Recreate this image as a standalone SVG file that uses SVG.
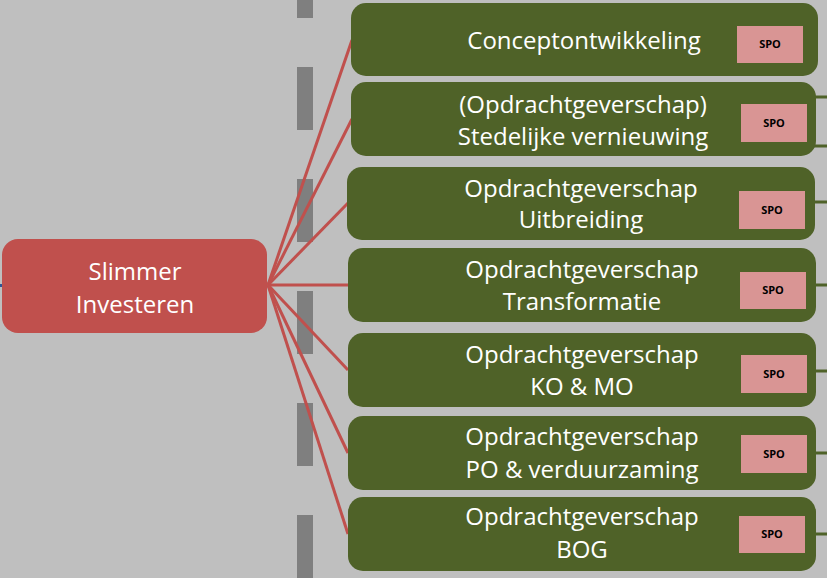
<svg xmlns="http://www.w3.org/2000/svg" width="827" height="578" viewBox="0 0 827 578">
<style>
.bg{fill:#BFBFBF}
.dash{fill:#7F7F7F}
.green{fill:#4F6228}
.red{fill:#C0504D}
.spo{fill:#D99594}
.t{font-family:"Open Sans","Liberation Sans",sans-serif;font-size:24px;fill:#FFFFFF;text-anchor:middle}
.s{font-family:"Open Sans","Liberation Sans",sans-serif;font-size:11px;font-weight:bold;fill:#000000;text-anchor:middle}
.conn line{stroke:#C0504D;stroke-width:3}
.stub line{stroke:#4F6228;stroke-width:3}
</style>
<rect class="bg" x="0" y="0" width="827" height="578"/>
<g id="divider">
<rect class="dash" x="297" y="0" width="16" height="18"/>
<rect class="dash" x="297" y="67" width="16" height="63"/>
<rect class="dash" x="297" y="179" width="16" height="63"/>
<rect class="dash" x="297" y="291" width="16" height="63"/>
<rect class="dash" x="297" y="403" width="16" height="63"/>
<rect class="dash" x="297" y="515" width="16" height="63"/>
</g>
<g id="connectors" class="conn">
<line x1="268" y1="285" x2="352" y2="40"/>
<line x1="268" y1="285" x2="352" y2="119"/>
<line x1="268" y1="285" x2="348" y2="203"/>
<line x1="268" y1="285" x2="349" y2="285"/>
<line x1="268" y1="285" x2="348" y2="370"/>
<line x1="268" y1="285" x2="348" y2="453"/>
<line x1="268" y1="285" x2="348" y2="534"/>
</g>
<g id="stubs" class="stub">
<line x1="810" y1="97" x2="827" y2="97"/>
<line x1="810" y1="146" x2="827" y2="146"/>
<line x1="810" y1="202" x2="827" y2="202"/>
<line x1="810" y1="285" x2="827" y2="285"/>
<line x1="810" y1="371" x2="827" y2="371"/>
<line x1="810" y1="453" x2="827" y2="453"/>
<line x1="810" y1="534" x2="827" y2="534"/>
<line x1="0" y1="285.5" x2="5" y2="285.5" style="stroke:#2F5597;stroke-width:3"/>
</g>
<g id="slimmer-investeren">
<rect class="red" x="2" y="239" width="265" height="94" rx="16"/>
<text class="t" x="135" y="280">Slimmer</text>
<text class="t" x="135" y="313">Investeren</text>
</g>
<g id="conceptontwikkeling">
<rect class="green" x="351" y="3" width="467" height="73" rx="15"/>
<text class="t" x="584" y="49">Conceptontwikkeling</text>
<rect class="spo" x="737" y="26" width="66" height="37"/>
<text class="s" x="770" y="48">SPO</text>
</g>
<g id="stedelijke-vernieuwing">
<rect class="green" x="351" y="82" width="465" height="74" rx="15"/>
<text class="t" x="583" y="113">(Opdrachtgeverschap)</text>
<text class="t" x="583" y="145">Stedelijke vernieuwing</text>
<rect class="spo" x="741" y="104" width="66" height="38"/>
<text class="s" x="774" y="127">SPO</text>
</g>
<g id="uitbreiding">
<rect class="green" x="347" y="167" width="468" height="73" rx="15"/>
<text class="t" x="581" y="197">Opdrachtgeverschap</text>
<text class="t" x="581" y="228">Uitbreiding</text>
<rect class="spo" x="739" y="191" width="66" height="38"/>
<text class="s" x="772" y="214">SPO</text>
</g>
<g id="transformatie">
<rect class="green" x="348" y="248" width="468" height="74" rx="15"/>
<text class="t" x="582" y="278">Opdrachtgeverschap</text>
<text class="t" x="582" y="310">Transformatie</text>
<rect class="spo" x="740" y="272" width="66" height="37"/>
<text class="s" x="773" y="294">SPO</text>
</g>
<g id="ko-mo">
<rect class="green" x="348" y="333" width="468" height="74" rx="15"/>
<text class="t" x="582" y="363">Opdrachtgeverschap</text>
<text class="t" x="582" y="395">KO &amp; MO</text>
<rect class="spo" x="741" y="355" width="66" height="38"/>
<text class="s" x="774" y="378">SPO</text>
</g>
<g id="po-verduurzaming">
<rect class="green" x="348" y="416" width="468" height="74" rx="15"/>
<text class="t" x="582" y="445">Opdrachtgeverschap</text>
<text class="t" x="582" y="478">PO &amp; verduurzaming</text>
<rect class="spo" x="741" y="435" width="66" height="38"/>
<text class="s" x="774" y="458">SPO</text>
</g>
<g id="bog">
<rect class="green" x="348" y="497" width="468" height="74" rx="15"/>
<text class="t" x="582" y="525">Opdrachtgeverschap</text>
<text class="t" x="582" y="558">BOG</text>
<rect class="spo" x="739" y="516" width="66" height="37"/>
<text class="s" x="772" y="538">SPO</text>
</g>
</svg>
